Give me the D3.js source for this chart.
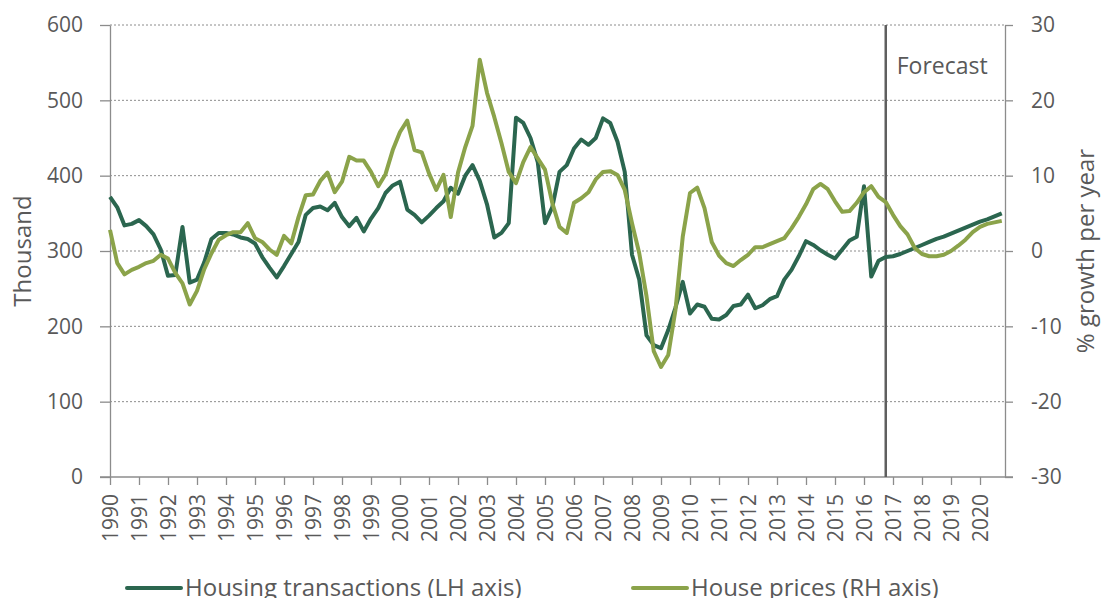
<!DOCTYPE html>
<html>
<head>
<meta charset="utf-8">
<script src="https://cdn.jsdelivr.net/npm/d3@7"></script>
<style>
  body { margin: 0; background: #fff; }
  text { font-family: "Open Sans", Lato, sans-serif; fill: #595959; }
</style>
</head>
<body>
<div id="chart"></div>
<script>
// Quarterly data, 1990 Q1 to 2020 Q4 (forecast from 2017 Q1)
const startYear = 1990;
const forecastStart = 2016.75;

// Housing transactions, thousand (LH axis)
const transactions = [
  372, 358, 334, 336, 341, 333, 322, 302, 267, 268,
  332, 258, 262, 285, 316, 324, 324, 322, 318, 316,
  310, 292, 278, 265, 280, 296, 312, 348, 357, 359,
  354, 364, 345, 333, 344, 326, 343, 357, 377, 387,
  392, 355, 348, 338, 347, 357, 366, 384, 376, 400,
  414, 393, 362, 318, 324, 337, 477, 470, 450, 418,
  337, 358, 405, 414, 436, 448, 441, 450, 476, 470,
  445, 405, 295, 262, 188, 175, 171, 195, 225, 259,
  217, 229, 226, 210, 209, 215, 227, 229, 242, 224,
  228, 236, 240, 262, 275, 293, 313, 308, 301, 295,
  290, 302, 314, 319, 386, 266, 287, 292, 293, 296,
  300, 304, 308, 312, 316, 319, 323, 327, 331, 335,
  339, 342, 346, 350
];

// House prices, % growth per year (RH axis)
const prices = [
  2.8, -1.6, -3.1, -2.5, -2.1, -1.6, -1.3, -0.5, -1.0, -2.9,
  -4.3, -7.1, -5.3, -2.4, -0.3, 1.5, 2.1, 2.5, 2.5, 3.7,
  1.7, 1.2, 0.2, -0.5, 2.0, 1.0, 4.5, 7.4, 7.5, 9.3,
  10.4, 7.8, 9.2, 12.5, 12.0, 12.0, 10.5, 8.6, 10.2, 13.4,
  15.8, 17.3, 13.4, 13.1, 10.3, 8.1, 10.1, 4.5, 10.4, 13.8,
  16.6, 25.4, 21.0, 17.8, 14.3, 10.5, 9.0, 11.8, 13.8, 12.3,
  10.8, 6.4, 3.2, 2.4, 6.4, 7.0, 7.8, 9.5, 10.5, 10.6,
  10.1, 8.1, 3.7, -0.3, -6.0, -13.3, -15.4, -13.8, -7.8, 1.9,
  7.7, 8.4, 5.7, 1.2, -0.6, -1.6, -2.0, -1.2, -0.5, 0.5,
  0.5, 0.9, 1.3, 1.7, 3.0, 4.5, 6.2, 8.2, 8.9, 8.2,
  6.6, 5.2, 5.3, 6.4, 7.8, 8.6, 7.2, 6.5, 4.8, 3.3,
  2.2, 0.4, -0.4, -0.7, -0.7, -0.5, 0.0, 0.7, 1.5, 2.5,
  3.2, 3.6, 3.8, 4.0
];

const yearTicks = [
  1990, 1991, 1992, 1993, 1994, 1995, 1996, 1997, 1998, 1999,
  2000, 2001, 2002, 2003, 2004, 2005, 2006, 2007, 2008, 2009,
  2010, 2011, 2012, 2013, 2014, 2015, 2016, 2017, 2018, 2019, 2020
];
const leftTicks = [0, 100, 200, 300, 400, 500, 600];
const rightTicks = [-30, -20, -10, 0, 10, 20, 30];

const darkGreen = "#2b664f";
const lightGreen = "#8ba34a";
const axisGrey = "#8c8c8c";

const width = 1103, height = 598;
const plot = { left: 110, right: 1005, top: 25, bottom: 477 };

const svg = d3.select("#chart")
    .append("svg")
    .attr("width", width)
    .attr("height", height);

const xScale = d3.scaleLinear()
    .domain([1990, 1990 + (plot.right - plot.left) / 29])
    .range([plot.left, plot.right]);

const yLeft = d3.scaleLinear()
    .domain([0, 600])
    .range([plot.bottom, plot.top]);

const yRight = d3.scaleLinear()
    .domain([-30, 30])
    .range([plot.bottom, plot.top]);

const quarter = i => startYear + i * 0.25;

// dotted gridlines
svg.append("g")
    .selectAll("line")
    .data(leftTicks.filter(d => d > 0))
    .enter()
    .append("line")
    .attr("x1", plot.left)
    .attr("x2", plot.right)
    .attr("y1", d => yLeft(d))
    .attr("y2", d => yLeft(d))
    .attr("stroke", "#8c8c8c")
    .attr("stroke-width", 1)
    .attr("stroke-dasharray", "2,2");

// left axis
const leftAxis = svg.append("g")
    .attr("transform", `translate(${plot.left},0)`)
    .call(d3.axisLeft(yLeft).tickValues(leftTicks).tickSize(10).tickPadding(17).tickSizeOuter(0));

// right axis (plain hyphen for negatives, as in the source)
const rightAxis = svg.append("g")
    .attr("transform", `translate(${plot.right},0)`)
    .call(d3.axisRight(yRight).tickValues(rightTicks).tickFormat(d => String(d))
        .tickSize(8).tickPadding(18).tickSizeOuter(0));

// bottom axis
const bottomAxis = svg.append("g")
    .attr("transform", `translate(0,${plot.bottom})`)
    .call(d3.axisBottom(xScale).tickValues(yearTicks).tickFormat(d3.format("d")).tickSize(8).tickSizeOuter(0));

bottomAxis.select(".domain").remove();

svg.append("line")
    .attr("x1", plot.left - 10)
    .attr("x2", plot.right + 8)
    .attr("y1", plot.bottom)
    .attr("y2", plot.bottom)
    .attr("stroke", axisGrey)
    .attr("stroke-width", 1.3);

[leftAxis, rightAxis, bottomAxis].forEach(g => {
    g.selectAll("line").attr("stroke", axisGrey).attr("stroke-width", 1.3);
    g.selectAll(".domain").attr("stroke", axisGrey).attr("stroke-width", 1.3);
    g.selectAll("text")
        .style("font-family", "'Open Sans', Lato, sans-serif")
        .style("font-size", "21px")
        .attr("fill", "#595959");
});

bottomAxis.selectAll("text")
    .attr("transform", "rotate(-90)")
    .attr("x", -17)
    .attr("y", 0)
    .attr("dy", "0.36em")
    .attr("text-anchor", "end")
    .style("font-size", "21px");

// forecast divider
svg.append("line")
    .attr("x1", xScale(forecastStart))
    .attr("x2", xScale(forecastStart))
    .attr("y1", plot.top)
    .attr("y2", plot.bottom)
    .attr("stroke", "#5f5f5f")
    .attr("stroke-width", 2.5);

svg.append("text")
    .attr("x", xScale(forecastStart) + 11)
    .attr("y", 74)
    .style("font-size", "23px")
    .text("Forecast");

// series lines
const transLine = d3.line()
    .x((d, i) => xScale(quarter(i)))
    .y(d => yLeft(d));

const priceLine = d3.line()
    .x((d, i) => xScale(quarter(i)))
    .y(d => yRight(d));

svg.append("path")
    .datum(transactions)
    .attr("d", transLine)
    .attr("fill", "none")
    .attr("stroke", darkGreen)
    .attr("stroke-width", 4)
    .attr("stroke-linejoin", "round");

svg.append("path")
    .datum(prices)
    .attr("d", priceLine)
    .attr("fill", "none")
    .attr("stroke", lightGreen)
    .attr("stroke-width", 4)
    .attr("stroke-linejoin", "round");

// axis titles
svg.append("text")
    .attr("transform", "translate(31,251) rotate(-90)")
    .attr("text-anchor", "middle")
    .style("font-size", "24px")
    .text("Thousand");

svg.append("text")
    .attr("transform", "translate(1094,251) rotate(-90)")
    .attr("text-anchor", "middle")
    .style("font-size", "24px")
    .text("% growth per year");

// legend
const legend = [
    { label: "Housing transactions (LH axis)", color: darkGreen, x: 127 },
    { label: "House prices (RH axis)", color: lightGreen, x: 633 }
];

const items = svg.selectAll(".legend")
    .data(legend)
    .enter()
    .append("g")
    .attr("class", "legend")
    .attr("transform", d => `translate(${d.x},588)`);

items.append("line")
    .attr("x1", 0)
    .attr("x2", 54)
    .attr("stroke", d => d.color)
    .attr("stroke-width", 4)
    .attr("stroke-linecap", "round");

items.append("text")
    .attr("x", 58)
    .attr("y", 8)
    .style("font-size", "24px")
    .text(d => d.label);
</script>
</body>
</html>
